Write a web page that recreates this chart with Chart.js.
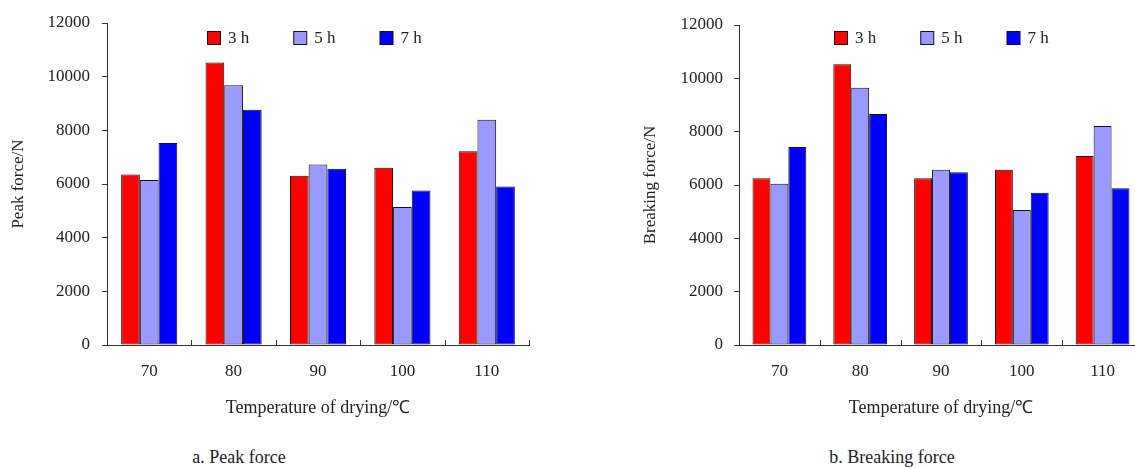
<!DOCTYPE html>
<html lang="en">
<head>
    <meta charset="UTF-8">
    <title>Peak force / Breaking force</title>
    <script src="https://cdn.jsdelivr.net/npm/chart.js"></script>
    <style>
        body {
            margin: 0;
            width: 1135px;
            height: 468px;
            overflow: hidden;
            background: #ffffff;
            position: relative;
            font-family: "Liberation Serif", "Times New Roman", serif;
            color: #222;
        }
        canvas {
            position: absolute;
            top: 0;
        }
        #chart1 { left: 0; }
        #chart2 { left: 567px; }
        .caption {
            position: absolute;
            top: 447px;
            font-size: 18px;
            white-space: nowrap;
            transform: translateX(-50%);
        }
    </style>
</head>
<body>
    <canvas id="chart1" width="567" height="420"></canvas>
    <canvas id="chart2" width="620" height="420"></canvas>
    <div class="caption" style="left: 239px;">a. Peak force</div>
    <div class="caption" style="left: 892px;">b. Breaking force</div>

    <script>
        // Daten
        const temps = ['70', '80', '90', '100', '110'];
        const seriesNames = ['3 h', '5 h', '7 h'];
        const seriesColors = ['#ff0000', '#9999ff', '#0000ff'];

        const peak3h = [6350, 10530, 6310, 6610, 7220];
        const peak5h = [6150, 9680, 6730, 5140, 8390];
        const peak7h = [7530, 8770, 6570, 5760, 5910];

        const break3h = [6250, 10525, 6250, 6575, 7090];
        const break5h = [6050, 9650, 6575, 5060, 8210];
        const break7h = [7425, 8660, 6475, 5710, 5875];

        const yTicks = [0, 2000, 4000, 6000, 8000, 10000, 12000];

        const serif = "'Liberation Serif', 'Times New Roman', serif";
        const axisColor = '#333333';
        const textColor = '#222222';

        // kleine Striche nach innen an den Kategoriegrenzen
        const innerTicks = {
            id: 'innerTicks',
            afterDraw(chart) {
                const xs = chart.scales.x;
                const ctx = chart.ctx;
                const n = chart.data.labels.length;
                ctx.save();
                ctx.strokeStyle = axisColor;
                ctx.lineWidth = 1;
                ctx.beginPath();
                for (let i = 1; i <= n; i++) {
                    const x = Math.round(xs.left + (xs.right - xs.left) * i / n) + 0.5;
                    ctx.moveTo(x, xs.top);
                    ctx.lineTo(x, xs.top - 5);
                }
                ctx.stroke();
                ctx.restore();
            }
        };

        // Legende in einer Zeile oben im Plotbereich
        const rowLegend = {
            id: 'rowLegend',
            afterDraw(chart, args, opts) {
                const ctx = chart.ctx;
                const area = chart.chartArea;
                const box = 13;
                const gap = 8;
                const spacing = opts.spacing;
                ctx.save();
                ctx.font = '17px ' + serif;
                const widths = chart.data.datasets.map(ds => box + gap + ctx.measureText(ds.label).width);
                const total = widths.reduce((a, b) => a + b, 0) + spacing * (widths.length - 1);
                let x = Math.round((area.left + area.right) / 2 - total / 2 + opts.offset);
                const y = opts.top;
                chart.data.datasets.forEach((ds, i) => {
                    ctx.fillStyle = ds.backgroundColor;
                    ctx.fillRect(x + 0.5, y + 0.5, box, box);
                    ctx.strokeStyle = '#111111';
                    ctx.lineWidth = 1;
                    ctx.strokeRect(x + 0.5, y + 0.5, box, box);
                    ctx.fillStyle = textColor;
                    ctx.textBaseline = 'middle';
                    ctx.textAlign = 'left';
                    ctx.fillText(ds.label, x + box + gap, y + box / 2 + 1);
                    x += widths[i] + spacing;
                });
                ctx.restore();
            }
        };

        function makeChart(id, title, data3, data5, data7, pad, yWidth, yTitlePad, yTickPad, legendOffset) {
            const ctx = document.getElementById(id).getContext('2d');
            const sets = [data3, data5, data7].map((d, i) => ({
                label: seriesNames[i],
                data: d,
                backgroundColor: seriesColors[i],
                borderColor: '#111111',
                borderWidth: 1,
                borderSkipped: false,
                barPercentage: 1.0,
                categoryPercentage: 0.665
            }));
            return new Chart(ctx, {
                type: 'bar',
                data: { labels: temps, datasets: sets },
                plugins: [innerTicks, rowLegend],
                options: {
                    responsive: false,
                    animation: false,
                    devicePixelRatio: 1,
                    layout: { padding: pad },
                    plugins: {
                        legend: { display: false },
                        rowLegend: { top: 31, spacing: 44, offset: legendOffset },
                        tooltip: { enabled: false }
                    },
                    scales: {
                        x: {
                            grid: { display: false, drawTicks: false },
                            border: { display: true, color: axisColor, width: 1 },
                            ticks: {
                                color: textColor,
                                padding: 16,
                                font: { family: serif, size: 17 }
                            },
                            title: {
                                display: true,
                                text: 'Temperature of drying/℃',
                                color: textColor,
                                padding: { top: 0, bottom: 0 },
                                font: { family: serif, size: 18 }
                            },
                            afterFit(scale) { scale.height = 74; }
                        },
                        y: {
                            min: 0,
                            max: 12000,
                            afterBuildTicks(scale) {
                                scale.ticks = yTicks.map(v => ({ value: v }));
                            },
                            grid: {
                                drawOnChartArea: false,
                                drawTicks: true,
                                tickLength: 5,
                                color: axisColor
                            },
                            border: { display: true, color: axisColor, width: 1 },
                            ticks: {
                                color: textColor,
                                padding: yTickPad,
                                font: { family: serif, size: 17 },
                                callback: v => String(v)
                            },
                            title: {
                                display: true,
                                text: title,
                                color: textColor,
                                padding: { top: yTitlePad, bottom: 0 },
                                font: { family: serif, size: 17 }
                            },
                            afterFit(scale) { scale.width = yWidth; }
                        }
                    }
                }
            });
        }

        makeChart('chart1', 'Peak force/N', peak3h, peak5h, peak7h,
            { left: 0, top: 23, right: 38, bottom: 1 }, 107, 8, 12, -4);
        makeChart('chart2', 'Breaking force/N', break3h, break5h, break7h,
            { left: 64, top: 25, right: 44, bottom: 1 }, 108, 9, 11, 0);
    </script>
</body>
</html>
